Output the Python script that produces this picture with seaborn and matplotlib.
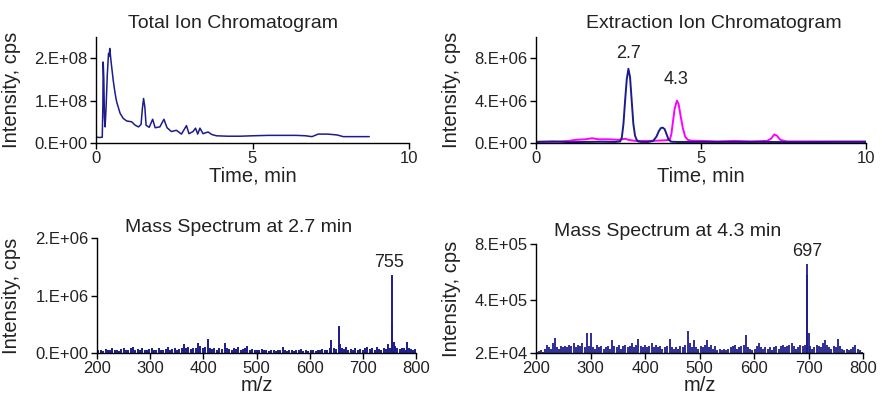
import numpy as np
import matplotlib
matplotlib.use("Agg")
import matplotlib.pyplot as plt
from matplotlib.ticker import FuncFormatter
import seaborn as sns

sns.set_theme(style="ticks")
plt.rcParams['font.family'] = ['Liberation Sans', 'DejaVu Sans']

NAVY = "#1c1c8c"
PINK = "#ff00ff"

# total ion chromatogram
tic_time = [0.0, 0.1, 0.2, 0.22, 0.23, 0.25, 0.27, 0.29, 0.32, 0.36, 0.4, 0.42, 0.44,
            0.47, 0.5, 0.55, 0.61, 0.66, 0.77, 0.87, 0.98, 1.14, 1.25, 1.36, 1.44,
            1.48, 1.52, 1.56, 1.6, 1.7, 1.81, 1.89, 2.04, 2.17, 2.27, 2.41, 2.57,
            2.73, 2.89, 2.97, 3.1, 3.18, 3.25, 3.32, 3.42, 3.58, 3.7, 3.85, 4.2,
            4.6, 5.0, 5.5, 6.0, 6.4, 6.7, 6.9, 7.1, 7.4, 7.7, 7.9, 8.3, 8.73]
tic_int = [1.4e7, 1.3e7, 1.35e7, 9.0e7, 1.91e8, 1.5e8, 6.0e7, 3.8e7, 8.0e7, 1.6e8,
           2.11e8, 2.05e8, 2.23e8, 2.0e8, 1.8e8, 1.48e8, 1.17e8, 9.7e7, 7.0e7, 5.8e7,
           5.2e7, 5.0e7, 4.2e7, 3.8e7, 4.4e7, 8.0e7, 1.05e8, 8.5e7, 4.2e7, 3.7e7,
           5.6e7, 3.6e7, 3.8e7, 5.6e7, 3.6e7, 2.7e7, 3.0e7, 2.1e7, 4.1e7, 2.2e7,
           2.7e7, 3.5e7, 2.1e7, 3.5e7, 2.2e7, 2.6e7, 2.0e7, 1.7e7, 1.6e7, 1.6e7,
           1.7e7, 1.8e7, 1.8e7, 1.8e7, 1.7e7, 1.5e7, 2.1e7, 2.1e7, 1.9e7, 1.5e7,
           1.5e7, 1.5e7]

# extraction ion chromatograms
xic_time_a = [0.0, 0.5, 1.0, 1.5, 2.0, 2.4, 2.55, 2.6, 2.65, 2.7, 2.75, 2.8, 2.85,
              2.9, 2.95, 3.0, 3.05, 3.1, 3.2, 3.4, 3.55, 3.65, 3.72, 3.78, 3.84,
              3.9, 3.96, 4.02, 4.1, 4.3, 5.0, 6.0, 7.0, 8.0, 9.0, 10.0]
xic_int_a = [0.1e6, 0.15e6, 0.08e6, 0.1e6, 0.12e6, 0.1e6, 0.15e6, 0.5e6, 1.8e6,
             4.0e6, 6.0e6, 7.0e6, 6.2e6, 4.0e6, 1.8e6, 0.7e6, 0.3e6, 0.15e6, 0.1e6,
             0.1e6, 0.2e6, 0.6e6, 1.1e6, 1.4e6, 1.45e6, 1.3e6, 0.8e6, 0.3e6, 0.12e6,
             0.1e6, 0.1e6, 0.1e6, 0.1e6, 0.08e6, 0.1e6, 0.1e6]
xic_time_b = [0.0, 0.5, 1.0, 1.2, 1.5, 1.7, 1.9, 2.2, 2.5, 2.7, 2.8, 3.0, 3.5, 3.9,
              4.05, 4.1, 4.15, 4.2, 4.27, 4.32, 4.38, 4.45, 4.52, 4.6, 4.7, 5.0,
              5.5, 6.0, 6.5, 7.0, 7.12, 7.22, 7.3, 7.4, 7.6, 8.0, 9.0, 10.0]
xic_int_b = [0.12e6, 0.1e6, 0.2e6, 0.3e6, 0.35e6, 0.45e6, 0.35e6, 0.35e6, 0.3e6,
             0.4e6, 0.3e6, 0.2e6, 0.2e6, 0.25e6, 0.3e6, 0.8e6, 2.0e6, 3.2e6, 4.0e6,
             3.7e6, 2.6e6, 1.4e6, 0.6e6, 0.3e6, 0.22e6, 0.2e6, 0.15e6, 0.2e6,
             0.15e6, 0.2e6, 0.4e6, 0.8e6, 0.7e6, 0.3e6, 0.15e6, 0.15e6, 0.15e6, 0.15e6]

# mass spectrum at 2.7 min (intensity in 1e6 cps)
ms1_mz = [202, 207, 211, 216, 220, 224, 229, 233, 238, 242, 246, 251, 255, 259, 264,
          268, 272, 277, 281, 285, 290, 294, 298, 303, 307, 311, 316, 320, 324, 329,
          333, 337, 342, 346, 350, 355, 359, 364, 368, 372, 377, 381, 386, 390, 394,
          399, 403, 408, 412, 417, 421, 426, 430, 435, 440, 444, 448, 453, 457, 462,
          466, 470, 475, 479, 483, 488, 492, 497, 501, 505, 510, 514, 518, 523, 527,
          532, 536, 540, 545, 549, 553, 558, 562, 566, 571, 575, 580, 584, 588, 593,
          597, 602, 606, 611, 615, 620, 624, 629, 633, 638, 641, 645, 650, 655, 657,
          660, 664, 669, 673, 678, 682, 686, 691, 695, 700, 704, 708, 713, 717, 722,
          726, 731, 735, 740, 744, 748, 752, 754, 755, 758, 761, 765, 769, 773, 777,
          781, 783, 787, 791, 795, 799]
ms1_int = [.05, .06, .04, .07, .05, .06, .09, .05, .06, .04, .07, .08, .05, .06, .08,
           .10, .06, .07, .05, .09, .06, .05, .07, .08, .05, .06, .09, .06, .05, .07,
           .10, .06, .07, .09, .06, .07, .08, .15, .08, .10, .07, .09, .08, .17, .12,
           .09, .10, .24, .08, .07, .09, .06, .08, .07, .17, .09, .07, .06, .08, .07,
           .10, .06, .07, .08, .13, .06, .07, .05, .06, .05, .07, .05, .06, .04, .06,
           .05, .04, .06, .05, .10, .05, .04, .06, .05, .04, .06, .05, .07, .04, .05,
           .04, .06, .05, .04, .06, .05, .07, .06, .05, .09, .22, .08, .07, .47, .16,
           .09, .07, .10, .06, .07, .05, .08, .06, .07, .06, .08, .10, .07, .09, .06,
           .10, .07, .06, .08, .07, .15, .09, .52, 1.35, .20, .12, .08, .07, .09, .08,
           .06, .20, .08, .07, .06, .07]

# mass spectrum at 4.3 min (intensity in 1e5 cps)
ms2_mz = [201, 205, 209, 213, 217, 221, 224, 228, 232, 234, 238, 242, 246, 249, 253,
          257, 261, 265, 269, 273, 277, 281, 285, 289, 293, 297, 300, 304, 308, 312,
          316, 320, 324, 328, 332, 336, 340, 344, 348, 352, 356, 360, 364, 368, 372,
          376, 380, 384, 388, 392, 396, 400, 404, 408, 412, 416, 420, 424, 428, 432,
          436, 440, 445, 449, 453, 457, 461, 465, 469, 473, 478, 482, 486, 490, 494,
          498, 502, 506, 510, 513, 517, 521, 525, 529, 533, 537, 541, 545, 549, 553,
          557, 561, 565, 569, 573, 577, 581, 585, 589, 593, 597, 601, 605, 609, 613,
          617, 621, 625, 629, 633, 637, 641, 645, 649, 653, 657, 661, 665, 669, 673,
          677, 681, 685, 689, 693, 697, 698, 700, 703, 707, 711, 715, 719, 723, 727,
          730, 734, 738, 742, 746, 750, 754, 758, 762, 766, 770, 774, 778, 782, 786,
          790, 794, 798]
ms2_int = [.3, .35, .4, .3, .5, .8, .6, .5, .9, 1.3, .6, .5, .7, .6, .7,
           .6, .8, .7, .9, .6, .8, .7, .9, .6, 1.6, .7, 1.6, .6, .5, .8,
           .6, .7, .5, .6, .7, .5, 1.1, .7, .6, .8, .5, .7, .8, .6, .7,
           .9, .6, .8, 1.2, .7, .6, .8, .6, .7, .9, .6, .8, .6, .7, .5,
           .6, .7, 1.2, .6, .5, .6, .5, .7, .6, .8, 1.8, .9, .6, 1.1, .6,
           .5, .7, .6, .8, 1.1, .6, .8, .5, .7, .4, .5, .4, .5, .4, .5,
           .6, .7, .8, .5, .6, .7, .8, 1.5, .6, .5, .4, .5, .7, .9, .6,
           .5, .6, .5, .6, .4, .6, .7, .5, .7, .8, .6, .7, .8, .9, .7,
           .5, .6, .8, .7, .8, 6.6, 5.8, 1.6, .7, .5, .6, .8, .7, .6, .9,
           1.1, .8, .6, .5, .7, .6, 1.2, .7, .5, .4, .5, .4, .5, .6, .8,
           .5, .4, .3]


def sci(v, pos):
    if v == 0:
        return "0.E+00"
    e = int(np.floor(np.log10(abs(v)) + 1e-9))
    m = int(round(v / 10 ** e))
    return f"{m}.E+{e:02d}"


fig = plt.figure(figsize=(8.82, 3.99), dpi=100)
W, H = 882, 399


def make_ax(l, r, t, b):
    return fig.add_axes([l / W, 1 - b / H, (r - l) / W, (b - t) / H])


ax1 = make_ax(96, 409, 37, 143)
ax2 = make_ax(536, 866, 37, 143)
ax3 = make_ax(97, 416, 238, 353)
ax4 = make_ax(536, 863, 244, 353)

sns.lineplot(x=tic_time, y=tic_int, ax=ax1, color=NAVY, lw=1.1, estimator=None, sort=False)
sns.lineplot(x=xic_time_b, y=xic_int_b, ax=ax2, color=PINK, lw=1.4, estimator=None, sort=False)
sns.lineplot(x=xic_time_a, y=xic_int_a, ax=ax2, color=NAVY, lw=1.4, estimator=None, sort=False)
ax3.vlines(ms1_mz, 0, np.array(ms1_int) * 1e6, color=NAVY, lw=1.4)
ax4.vlines(ms2_mz, 0, np.array(ms2_int) * 1e5, color=NAVY, lw=1.3)

ax1.set_xlim(0, 10); ax1.set_ylim(0, 2.5e8)
ax1.set_xticks([0, 5, 10]); ax1.set_yticks([0, 1e8, 2e8])
ax2.set_xlim(0, 10); ax2.set_ylim(0, 1e7)
ax2.set_xticks([0, 5, 10]); ax2.set_yticks([0, 4e6, 8e6])
ax3.set_xlim(200, 800); ax3.set_ylim(0, 2e6)
ax3.set_xticks(range(200, 801, 100)); ax3.set_yticks([0, 1e6, 2e6])
ax4.set_xlim(200, 800); ax4.set_ylim(2e4, 8e5)
ax4.set_xticks(range(200, 801, 100)); ax4.set_yticks([2e4, 4e5, 8e5])

for ax in (ax1, ax2, ax3, ax4):
    sns.despine(ax=ax)
    ax.yaxis.set_major_formatter(FuncFormatter(sci))
    ax.tick_params(labelsize=12, length=4, width=1, color="black", pad=2, labelcolor="#222222")
    for s in ("left", "bottom"):
        ax.spines[s].set_color("black")
        ax.spines[s].set_linewidth(1)
    ax.set_ylabel("Intensity, cps", fontsize=14.5, color="#222222")

for ax in (ax1, ax2):
    ax.set_xlabel("Time, min", fontsize=14.5, color="#222222", labelpad=0)
for ax in (ax3, ax4):
    ax.set_xlabel("m/z", fontsize=14.5, color="#222222", labelpad=0)

ax1.yaxis.set_label_coords((21 - 96) / 313, 0.5)
ax2.yaxis.set_label_coords((21 - 96) / 330, 0.5)
ax3.yaxis.set_label_coords((21 - 97) / 319, 0.5)
ax4.yaxis.set_label_coords((21 - 96) / 327, 0.5)

fig.text(233 / W, 1 - 23 / H, "Total Ion Chromatogram", ha="center", va="center", fontsize=14, color="#222222")
fig.text(714 / W, 1 - 23 / H, "Extraction Ion Chromatogram", ha="center", va="center", fontsize=14, color="#222222")
fig.text(239 / W, 1 - 228 / H, "Mass Spectrum at 2.7 min", ha="center", va="center", fontsize=14, color="#222222")
fig.text(668 / W, 1 - 232 / H, "Mass Spectrum at 4.3 min", ha="center", va="center", fontsize=14, color="#222222")

ax2.text(2.8, 8.45e6, "2.7", ha="center", va="center", fontsize=13, color="#222222")
ax2.text(4.24, 6.0e6, "4.3", ha="center", va="center", fontsize=13, color="#222222")
ax3.text(749.5, 1.57e6, "755", ha="center", va="center", fontsize=13, color="#222222")
ax4.text(697, 7.44e5, "697", ha="center", va="center", fontsize=13, color="#222222", clip_on=False)

fig.savefig("out.png", dpi=100)
